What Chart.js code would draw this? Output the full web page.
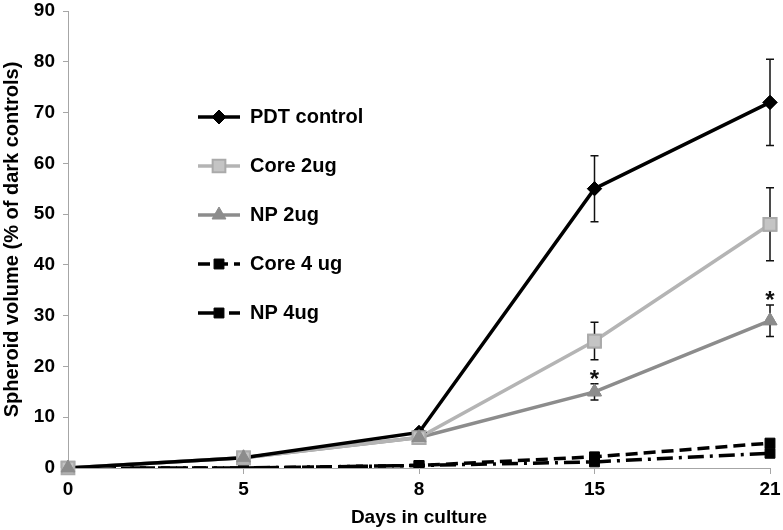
<!DOCTYPE html>
<html>
<head>
<meta charset="utf-8">
<script src="https://cdn.jsdelivr.net/npm/chart.js@4"></script>
<style>
  html, body { margin: 0; padding: 0; background: #fff; }
  #wrap { width: 783px; height: 530px; }
</style>
</head>
<body>
<div id="wrap"><canvas id="chart"></canvas></div>
<script>
var days = ["0", "5", "8", "15", "21"];
var yTicks = [0, 10, 20, 30, 40, 50, 60, 70, 80, 90];

var pdtControl = [0, 2, 7, 55, 72];
var pdtControlErr = [0, 0, 0, 6.5, 8.5];
var core2ug = [0, 2, 6, 25, 48];
var core2ugErr = [0, 0, 0, 3.7, 7.2];
var np2ug = [0, 2, 6, 15, 29];
var np2ugErr = [0, 0, 0, 1.6, 3.1];
var core4ug = [0, 0, 0.5, 2.2, 4.9];
var np4ug = [0, 0, 0.5, 1.2, 2.9];
var np2ugSignificant = [false, false, false, true, true];

var FONT = "'Liberation Sans', Arial, sans-serif";

// error bars and the * marks, markers redrawn on top
var errorBars = {
	id: "errorBars",
	afterDatasetsDraw: function (chart) {
		var ctx = chart.ctx,
			yScale = chart.scales.y;
		chart.data.datasets.forEach(function (ds, i) {
			if (!ds.errors) {
				return;
			}
			var meta = chart.getDatasetMeta(i);
			meta.data.forEach(function (pt, j) {
				var e = ds.errors[j];
				if (!e) {
					return;
				}
				var top = yScale.getPixelForValue(ds.data[j] + e),
					bottom = yScale.getPixelForValue(ds.data[j] - e);
				ctx.save();
				ctx.strokeStyle = "#111";
				ctx.lineWidth = 1.5;
				ctx.beginPath();
				ctx.moveTo(pt.x, top);
				ctx.lineTo(pt.x, bottom);
				ctx.moveTo(pt.x - 4, top);
				ctx.lineTo(pt.x + 4, top);
				ctx.moveTo(pt.x - 4, bottom);
				ctx.lineTo(pt.x + 4, bottom);
				ctx.stroke();
				if (ds.significant && ds.significant[j]) {
					ctx.fillStyle = "#111";
					ctx.font = "bold 24px " + FONT;
					ctx.textAlign = "center";
					ctx.textBaseline = "alphabetic";
					ctx.fillText("*", pt.x, top + 3);
				}
				ctx.restore();
			});
			meta.data.forEach(function (pt) {
				pt.draw(ctx, chart.chartArea);
			});
		});
	}
};

// legend inside the plot area
var insideLegend = {
	id: "insideLegend",
	afterDraw: function (chart) {
		var ctx = chart.ctx;
		chart.data.datasets.forEach(function (ds, i) {
			var y = 117 + i * 49;
			ctx.save();
			ctx.strokeStyle = ds.borderColor;
			ctx.lineWidth = ds.borderWidth;
			ctx.setLineDash(ds.borderDash || []);
			ctx.beginPath();
			ctx.moveTo(198, y);
			ctx.lineTo(240, y);
			ctx.stroke();
			ctx.setLineDash([]);
			ctx.fillStyle = ds.pointBackgroundColor;
			ctx.strokeStyle = ds.pointBorderColor;
			ctx.lineWidth = ds.pointBorderWidth;
			Chart.helpers.drawPoint(ctx, {
				pointStyle: ds.pointStyle,
				radius: ds.pointRadius,
				borderWidth: ds.pointBorderWidth,
				rotation: 0
			}, 219, y);
			ctx.fillStyle = "#000";
			ctx.font = "bold 20px " + FONT;
			ctx.textAlign = "left";
			ctx.textBaseline = "middle";
			ctx.fillText(ds.label, 250, y);
			ctx.restore();
		});
	}
};

new Chart(document.getElementById("chart"), {
	type: "line",
	data: {
		labels: days,
		datasets: [
			{
				label: "PDT control",
				data: pdtControl,
				errors: pdtControlErr,
				borderColor: "#000",
				borderWidth: 3.5,
				pointStyle: "rectRot",
				pointRadius: 7,
				pointBackgroundColor: "#000",
				pointBorderColor: "#000",
				pointBorderWidth: 1
			},
			{
				label: "Core 2ug",
				data: core2ug,
				errors: core2ugErr,
				borderColor: "#b4b4b4",
				borderWidth: 3.5,
				pointStyle: "rect",
				pointRadius: 9,
				pointBackgroundColor: "#c4c4c4",
				pointBorderColor: "#aaaaaa",
				pointBorderWidth: 2
			},
			{
				label: "NP 2ug",
				data: np2ug,
				errors: np2ugErr,
				significant: np2ugSignificant,
				borderColor: "#8c8c8c",
				borderWidth: 3.5,
				pointStyle: "triangle",
				pointRadius: 8,
				pointBackgroundColor: "#8c8c8c",
				pointBorderColor: "#8c8c8c",
				pointBorderWidth: 1
			},
			{
				label: "Core 4 ug",
				data: core4ug,
				borderColor: "#000",
				borderWidth: 3.5,
				borderDash: [12, 6],
				pointStyle: "rect",
				pointRadius: 7,
				pointBackgroundColor: "#000",
				pointBorderColor: "#000",
				pointBorderWidth: 1
			},
			{
				label: "NP 4ug",
				data: np4ug,
				borderColor: "#000",
				borderWidth: 3.5,
				borderDash: [16, 6, 3, 6],
				pointStyle: "rect",
				pointRadius: 7,
				pointBackgroundColor: "#000",
				pointBorderColor: "#000",
				pointBorderWidth: 1
			}
		]
	},
	options: {
		responsive: true,
		maintainAspectRatio: false,
		animation: false,
		layout: {padding: {top: 0, right: 13, left: 0, bottom: 0}},
		plugins: {
			legend: {display: false},
			tooltip: {enabled: false}
		},
		scales: {
			x: {
				offset: false,
				grid: {display: true, drawOnChartArea: false, tickLength: 6, color: "#a6a6a6"},
				border: {display: true, color: "#a6a6a6", width: 1},
				ticks: {color: "#000", font: {family: FONT, size: 19, weight: "bold"}, padding: 4, maxRotation: 0},
				title: {display: true, text: "Days in culture", color: "#000",
					font: {family: FONT, size: 19, weight: "bold"}, padding: {top: 0, bottom: 1}},
				afterFit: function (scale) {
					scale.height = 62;
					scale.paddingLeft = 0;
					scale.paddingRight = 0;
				}
			},
			y: {
				min: 0,
				max: 90,
				grid: {display: true, drawOnChartArea: false, tickLength: 5, color: "#a6a6a6"},
				border: {display: true, color: "#a6a6a6", width: 1},
				afterBuildTicks: function (scale) {
					scale.ticks = yTicks.map(function (v) { return {value: v}; });
				},
				ticks: {color: "#000", font: {family: FONT, size: 19, weight: "bold"}, padding: 8},
				title: {display: true, text: "Spheroid volume (% of dark controls)", color: "#000",
					font: {family: FONT, size: 20, weight: "bold"}, padding: {top: 0, bottom: 0}},
				afterFit: function (scale) {
					scale.width = 68;
					scale.paddingTop = 10;
					scale.paddingBottom = 0;
				}
			}
		}
	},
	plugins: [errorBars, insideLegend]
});
</script>
</body>
</html>
